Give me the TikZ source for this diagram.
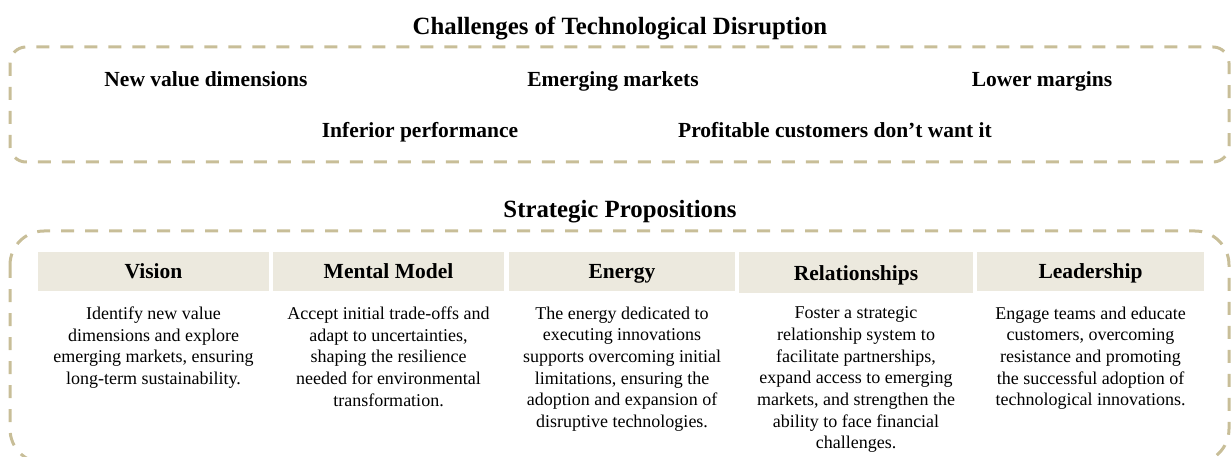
\documentclass[tikz,border=0pt]{standalone}
\usepackage{fontspec}
\setmainfont{Liberation Serif}
\definecolor{frameline}{RGB}{200,190,152}
\definecolor{headfill}{RGB}{236,233,222}
\begin{document}
\begin{tikzpicture}[x=1pt,y=-1pt,
  frame/.style={draw=frameline,line width=3pt,dash pattern=on 13pt off 11pt},
  title/.style={anchor=base,inner sep=0pt,font=\fontsize{24.8}{28}\selectfont\bfseries},
  item/.style={anchor=base,inner sep=0pt,font=\fontsize{21.5}{26}\selectfont\bfseries},
  headcell/.style={fill=headfill,inner sep=0pt,minimum height=39pt,text height=19.5pt,text depth=4.5pt,
    font=\fontsize{21.5}{26}\selectfont\bfseries},
  body/.style={anchor=north,inner sep=0pt,align=center,font=\fontsize{18}{21.7}\selectfont}]
\useasboundingbox (0,0) rectangle (1232,457);
\clip (0,0) rectangle (1232,457);

% challenges panel
\node[title] (t1) at (620,35) {Challenges of Technological Disruption};
\draw[frame,rounded corners=16pt] (10,47) rectangle (1229,162);
\node[item] (c1) at (206,87) {New value dimensions};
\node[item] (c2) at (613,87) {Emerging markets};
\node[item] (c3) at (1042,87) {Lower margins};
\node[item] (c4) at (420,138) {Inferior performance};
\node[item] (c5) at (835,138) {Profitable customers don’t want it};

% propositions panel
\node[title] (t2) at (620,218) {Strategic Propositions};
\draw[frame,rounded corners=34pt] (10,231) rectangle (1229,463);

\node[headcell,minimum width=231pt] (h1) at (153.5,271.5) {Vision};
\node[headcell,minimum width=231pt] (h2) at (388.5,271.5) {Mental Model};
\node[headcell,minimum width=226pt] (h3) at (622,271.5) {Energy};
\node[headcell,minimum width=234pt,minimum height=41pt] (h4) at (856,272.5) {Relationships};
\node[headcell,minimum width=227pt] (h5) at (1090.5,271.5) {Leadership};

\node[body] (b1) at (153.5,306.5) {Identify new value\\dimensions and explore\\emerging markets, ensuring\\long-term sustainability.};
\node[body] (b2) at (388.5,306.5) {Accept initial trade-offs and\\adapt to uncertainties,\\shaping the resilience\\needed for environmental\\transformation.};
\node[body] (b3) at (622,306.5) {The energy dedicated to\\executing innovations\\supports overcoming initial\\limitations, ensuring the\\adoption and expansion of\\disruptive technologies.};
\node[body] (b4) at (856,306.5) {Foster a strategic\\relationship system to\\facilitate partnerships,\\expand access to emerging\\markets, and strengthen the\\ability to face financial\\challenges.};
\node[body] (b5) at (1090.5,306.5) {Engage teams and educate\\customers, overcoming\\resistance and promoting\\the successful adoption of\\technological innovations.};
\end{tikzpicture}
\end{document}
